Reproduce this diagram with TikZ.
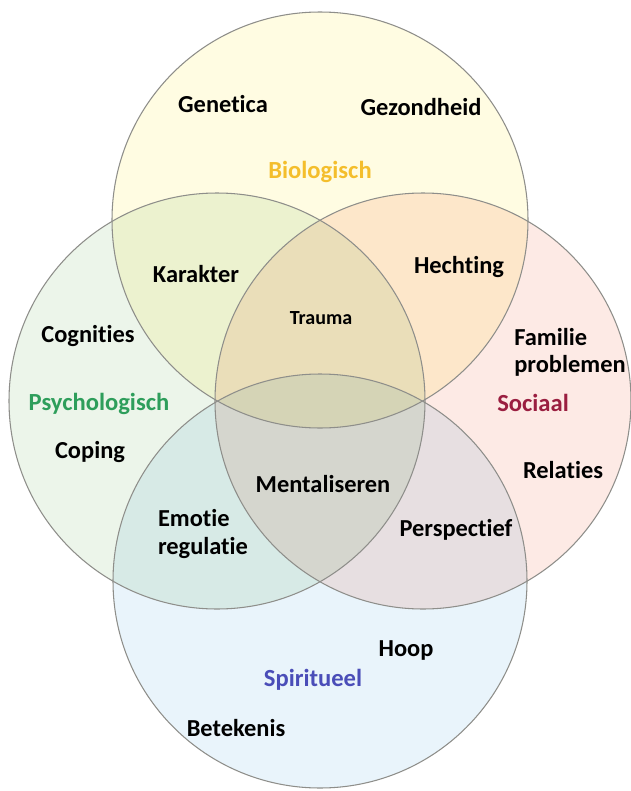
\documentclass[tikz,border=0pt]{standalone}
\usepackage{fontspec}
\setmainfont{Carlito}[Ligatures=NoCommon]
\definecolor{bioFill}{HTML}{FFFCE2}
\definecolor{psyFill}{HTML}{ECF5EA}
\definecolor{socFill}{HTML}{FDEAE5}
\definecolor{spiFill}{HTML}{E9F4FB}
\definecolor{bioText}{HTML}{F4BE2C}
\definecolor{psyText}{HTML}{2E9E5B}
\definecolor{socText}{HTML}{9A1E40}
\definecolor{spiText}{HTML}{4A4DB8}
\definecolor{rim}{HTML}{8E8E8A}
\begin{document}
\begin{tikzpicture}[x=0.02cm,y=-0.02cm]

    \tikzset{
      ring/.style={
        draw=rim,
        line width=0.6pt,
      },
      item/.style={
        font=\bfseries\fontsize{13.9}{15.5}\selectfont,
        text=black,
        inner sep=0pt,
      },
      area/.style={
        font=\bfseries\fontsize{14}{16}\selectfont,
        inner sep=0pt,
      },
    }
    \useasboundingbox (0,0) rectangle (630,791);
	\fill[white] (0,0) rectangle (630,791);
	\begin{scope}[blend group=multiply]
	\fill[bioFill] (320,220) circle (208);
	\fill[psyFill] (217,401) circle (208);
	\fill[socFill] (423,401) circle (208);
	\fill[spiFill] (320,581) circle (207);
	\end{scope}
	\draw[ring] (320,220) circle (208);
	\draw[ring] (217,401) circle (208);
	\draw[ring] (423,401) circle (208);
	\draw[ring] (320,581) circle (207);
	% group names
	\node[area,text=bioText] (bio) at (320,172) {Biologisch};
	\node[area,text=psyText] (psy) at (99,404) {Psychologisch};
	\node[area,text=socText] (soc) at (533,403) {Sociaal};
	\node[area,text=spiText] (spi) at (313,680) {Spiritueel};
	% items
	\node[item] (genetica) at (223,104) {Genetica};
	\node[item] (gezondheid) at (421,107) {Gezondheid};
	\node[item] (karakter) at (196,274) {Karakter};
	\node[item] (hechting) at (459,267) {Hechting};
	\node[item,font=\bfseries\fontsize{11.4}{13}\selectfont] (trauma) at (321,318) {Trauma};
	\node[item] (cognities) at (88,336) {Cognities};
	\node[item,align=left] (familie) at (570,352) {Familie\\problemen};
	\node[item] (coping) at (90,452) {Coping};
	\node[item] (relaties) at (563,470) {Relaties};
	\node[item] (mentaliseren) at (323,484) {Mentaliseren};
	\node[item,align=left] (emotie) at (203,534) {Emotie\\regulatie};
	\node[item] (perspectief) at (456,530) {Perspectief};
	\node[item] (hoop) at (406,650) {Hoop};
	\node[item] (betekenis) at (236,728) {Betekenis};

\end{tikzpicture}
\end{document}
